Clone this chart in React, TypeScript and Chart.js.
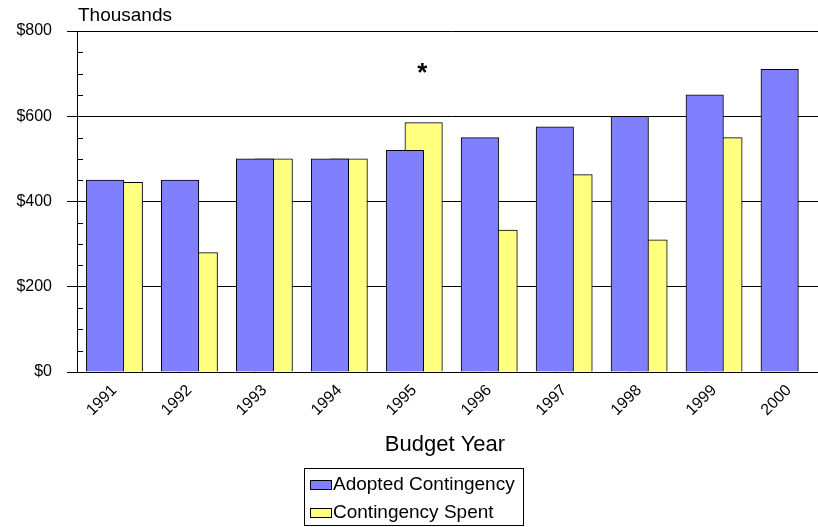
import React, { useEffect, useRef } from "react";
import { Chart, registerables } from "chart.js";

Chart.register(...registerables);

const years = ["1991", "1992", "1993", "1994", "1995", "1996", "1997", "1998", "1999", "2000"];
const adoptedContingency = [450, 450, 500, 500, 520, 550, 575, 600, 650, 710];
const contingencySpent = [445, 280, 500, 500, 585, 333, 463, 310, 550, null];
const yTickValues = [0, 200, 400, 600, 800];
const minorStep = 50;
const seriesLabels = ["Adopted Contingency", "Contingency Spent"];
const seriesColors = ["#8080FF", "#FFFF80"];
const unitsLabel = "Thousands";
const xTitle = "Budget Year";
const noteIndex = 4; // asterisk over 1995

const FONT = "'Liberation Sans', Arial, Helvetica, sans-serif";

export default function App() {
  const ref = useRef<HTMLCanvasElement>(null);

  useEffect(() => {
    const canvas = ref.current!;
    const overlay = {
      id: "overlay",
      afterDraw(chart: any) {
        const ctx = chart.ctx as CanvasRenderingContext2D;
        const y = chart.scales.y;
        const x = chart.scales.x;
        const area = chart.chartArea;
        ctx.save();
        // minor ticks (inside)
        ctx.strokeStyle = "#000";
        ctx.lineWidth = 1;
        for (let v = minorStep; v < y.max; v += minorStep) {
          if (yTickValues.includes(v)) continue;
          const py = Math.round(y.getPixelForValue(v)) + 0.5;
          ctx.beginPath();
          ctx.moveTo(area.left, py);
          ctx.lineTo(area.left + 6, py);
          ctx.stroke();
        }
        // units label
        ctx.fillStyle = "#000";
        ctx.font = `19px ${FONT}`;
        ctx.textAlign = "left";
        ctx.textBaseline = "alphabetic";
        ctx.fillText(unitsLabel, area.left + 1, 21);
        // asterisk
        ctx.font = `bold 26px ${FONT}`;
        ctx.textAlign = "center";
        const ax = x.getPixelForValue(noteIndex) + 8;
        ctx.fillText("*", ax, 66 + 0.57 * 26);
        // axis title
        ctx.font = `22px ${FONT}`;
        ctx.textAlign = "center";
        ctx.textBaseline = "alphabetic";
        ctx.fillText(xTitle, 445, 451);
        // legend
        const bx = 304.5, by = 468.5, bw = 219, bh = 57;
        ctx.strokeStyle = "#000";
        ctx.strokeRect(bx, by, bw, bh);
        ctx.font = `19px ${FONT}`;
        ctx.textAlign = "left";
        chart.data.datasets.forEach((ds: any, i: number) => {
          const ry = 479.5 + i * 28.5;
          ctx.fillStyle = ds.backgroundColor;
          ctx.fillRect(310.5, Math.round(ry) + 0.5, 21, 9);
          ctx.strokeRect(310.5, Math.round(ry) + 0.5, 21, 9);
          ctx.fillStyle = "#000";
          ctx.fillText(ds.label, 333, 490 + i * 28);
        });
        ctx.restore();
      },
    };

    const chart = new Chart(canvas, {
      type: "bar",
      data: {
        labels: years,
        datasets: [
          {
            label: seriesLabels[0],
            data: adoptedContingency,
            backgroundColor: seriesColors[0],
            borderColor: "#000",
            borderWidth: 1,
            categoryPercentage: 0.5,
            barPercentage: 2,
          },
          {
            label: seriesLabels[1],
            data: contingencySpent as any,
            backgroundColor: seriesColors[1],
            borderColor: "#000",
            borderWidth: 1,
            categoryPercentage: 0.5,
            barPercentage: 2,
          },
        ],
      },
      options: {
        responsive: false,
        animation: false,
        devicePixelRatio: 1,
        layout: { padding: { top: 31, right: 13.5, left: 0, bottom: 0 } },
        plugins: {
          legend: { display: false },
          tooltip: { enabled: false },
          title: { display: false },
        },
        scales: {
          x: {
            type: "category",
            offset: true,
            grid: { display: false, drawTicks: false },
            border: { display: true, color: "#000", width: 1 },
            ticks: {
              color: "#000",
              font: { family: FONT, size: 16 },
              minRotation: 45,
              maxRotation: 45,
              autoSkip: false,
              padding: 9,
            },
            afterFit: (s: any) => {
              s.height = 155;
            },
          },
          y: {
            min: 0,
            max: 800,
            grid: { color: "#000", lineWidth: 1, tickLength: 10, drawTicks: true, tickColor: "#000" },
            border: { display: true, color: "#000", width: 1 },
            afterBuildTicks: (s: any) => {
              s.ticks = yTickValues.map((v) => ({ value: v }));
            },
            ticks: {
              color: "#000",
              font: { family: FONT, size: 16 },
              padding: 15,
              callback: (v: any) => "$" + v,
            },
            afterFit: (s: any) => {
              s.width = 77;
            },
          },
        },
      },
      plugins: [overlay],
    });
    return () => chart.destroy();
  }, []);

  return (
    <div
      style={{
        position: "fixed",
        left: 0,
        top: 0,
        width: 818,
        height: 527,
        overflow: "hidden",
        background: "#fff",
      }}
    >
      <canvas ref={ref} width={840} height={527} style={{ display: "block" }} />
    </div>
  );
}
